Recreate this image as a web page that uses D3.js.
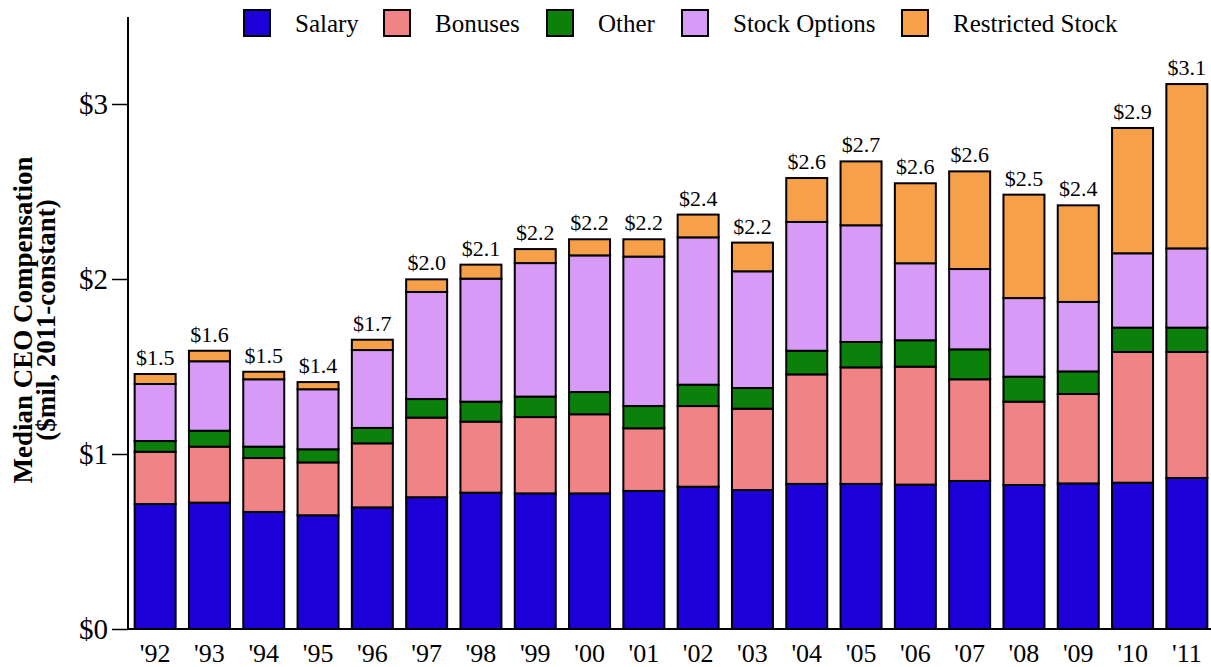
<!DOCTYPE html>
<html>
<head>
<meta charset="utf-8">
<script src="https://cdn.jsdelivr.net/npm/d3@7"></script>
<style>
  body { margin: 0; background: #fff; }
  text { font-family: "Liberation Serif", "Times New Roman", serif; }
</style>
</head>
<body>
<svg width="1211" height="667"></svg>
<script>
// data ($mil, 2011-constant)
var years = ["'92","'93","'94","'95","'96","'97","'98","'99","'00","'01","'02","'03","'04","'05","'06","'07","'08","'09","'10","'11"];
var salary  = [.714,.722,.669,.650,.695,.753,.779,.775,.775,.789,.813,.794,.829,.829,.825,.846,.823,.832,.836,.863];
var bonuses = [.299,.320,.308,.302,.366,.455,.406,.436,.452,.358,.461,.465,.626,.666,.674,.581,.476,.511,.747,.720];
var other   = [.061,.091,.065,.075,.088,.106,.114,.117,.127,.127,.122,.118,.135,.145,.151,.171,.143,.129,.139,.139];
var options = [.326,.397,.385,.343,.445,.612,.703,.763,.781,.854,.842,.667,.736,.667,.440,.459,.449,.397,.425,.453];
var restricted = [.057,.060,.043,.041,.059,.072,.080,.080,.092,.099,.130,.164,.251,.365,.457,.558,.591,.552,.716,.939];
var totalLabels = ["$1.5","$1.6","$1.5","$1.4","$1.7","$2.0","$2.1","$2.2","$2.2","$2.2","$2.4","$2.2","$2.6","$2.7","$2.6","$2.6","$2.5","$2.4","$2.9","$3.1"];
var seriesNames = ["Salary","Bonuses","Other","Stock Options","Restricted Stock"];
var colors = ["#1d00d8","#ef8385","#0b800b","#d79bf7","#f7a04a"];
var yTicks = [0,1,2,3];

var svg = d3.select("svg");

var rows = years.map(function(y, i) {
    return {year: y, "Salary": salary[i], "Bonuses": bonuses[i], "Other": other[i],
            "Stock Options": options[i], "Restricted Stock": restricted[i], label: totalLabels[i]};
});

var x = d3.scaleBand().domain(years).range([128, 1214]).paddingInner(0.245).paddingOuter(0.1225);
var y = d3.scaleLinear().domain([0, 3]).range([629, 104]);
var color = d3.scaleOrdinal().domain(seriesNames).range(colors);

var stack = d3.stack().keys(seriesNames)(rows);

/* bars */
svg.append("g").selectAll("g")
    .data(stack)
    .join("g")
    .attr("fill", function(d){ return color(d.key); })
  .selectAll("rect")
    .data(function(d){ return d; })
    .join("rect")
    .attr("x", function(d){ return x(d.data.year); })
    .attr("y", function(d){ return y(d[1]); })
    .attr("width", x.bandwidth())
    .attr("height", function(d){ return y(d[0]) - y(d[1]); })
    .attr("stroke", "#000")
    .attr("stroke-width", 2);

/* totals above bars */
var topLayer = stack[stack.length - 1];
svg.append("g").selectAll("text")
    .data(topLayer)
    .join("text")
    .attr("x", function(d){ return x(d.data.year) + x.bandwidth() / 2; })
    .attr("y", function(d){ return y(d[1]) - 9; })
    .attr("text-anchor", "middle")
    .attr("font-size", 22)
    .text(function(d){ return d.data.label; });

/* axes */
var yAxis = svg.append("g")
    .attr("transform", "translate(128,0)")
    .call(d3.axisLeft(y).tickValues(yTicks).tickSize(16).tickPadding(4).tickFormat(function(d){ return "$" + d; }));
yAxis.select(".domain").remove();
yAxis.selectAll("line").attr("stroke-width", 1.5);
yAxis.selectAll("text").attr("font-size", 29).attr("font-family", "Liberation Serif").attr("fill", "#000");

svg.append("line")
    .attr("x1", 128).attr("x2", 128).attr("y1", 17).attr("y2", 630)
    .attr("stroke", "#000").attr("stroke-width", 2);

var xAxis = svg.append("g")
    .attr("transform", "translate(0,629)")
    .call(d3.axisBottom(x).tickSize(0));
xAxis.select(".domain").attr("d", "M127,0H1211").attr("stroke-width", 2);
xAxis.selectAll("text").attr("font-size", 26).attr("font-family", "Liberation Serif").attr("fill", "#000")
    .attr("y", 33).attr("dy", 0);

/* axis title */
var title = svg.append("text")
    .attr("transform", "translate(32,320) rotate(-90)")
    .attr("text-anchor", "middle")
    .attr("font-weight", "bold")
    .attr("font-size", 27);
title.append("tspan").attr("x", 0).attr("y", 0).text("Median CEO Compensation");
title.append("tspan").attr("x", 0).attr("y", 23).text("($mil, 2011-constant)");

/* legend */
var legendX = [244, 384, 547, 682, 902];
var legend = svg.append("g").selectAll("g")
    .data(seriesNames)
    .join("g")
    .attr("transform", function(d, i){ return "translate(" + legendX[i] + ",10)"; });
legend.append("rect")
    .attr("width", 26).attr("height", 26)
    .attr("fill", function(d){ return color(d); })
    .attr("stroke", "#000").attr("stroke-width", 2);
legend.append("text")
    .attr("x", 51).attr("y", 22)
    .attr("font-size", 25)
    .text(function(d){ return d; });
</script>
</body>
</html>
